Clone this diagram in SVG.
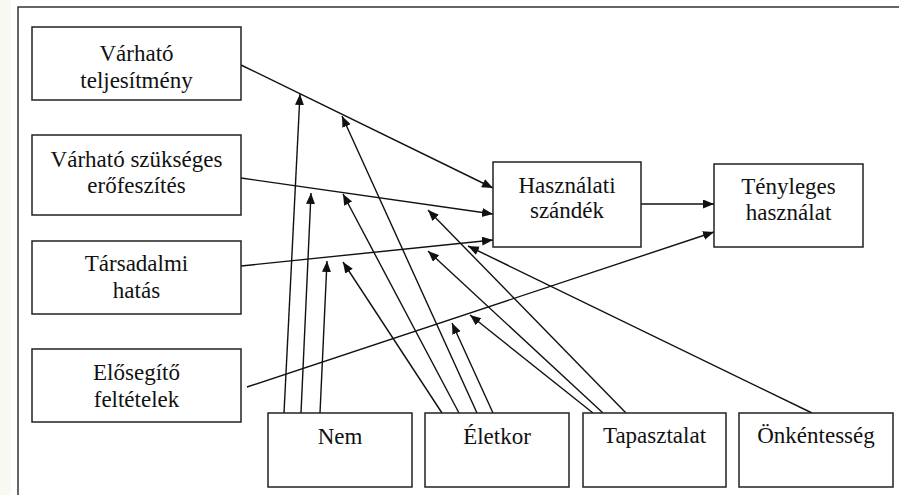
<svg xmlns="http://www.w3.org/2000/svg" width="899" height="495" viewBox="0 0 899 495">
<defs>
<style>
.box{fill:#fff;stroke:#222;stroke-width:1.5}
.t{font-family:'Liberation Serif',serif;font-size:23px;fill:#111;text-anchor:middle}
.c{stroke:#111;stroke-width:1.4;fill:none;marker-end:url(#ah)}
</style>
<marker id="ah" markerUnits="userSpaceOnUse" markerWidth="12" markerHeight="10" refX="11" refY="4.5" orient="auto">
<path d="M0,0 L11,4.5 L0,9 z" fill="#111"/>
</marker>
</defs>
<rect x="0" y="0" width="899" height="495" fill="#fff"/>
<rect x="0" y="0" width="11" height="495" fill="#f9f9f4"/>
<path d="M18,495 V7 H899" fill="none" stroke="#333" stroke-width="1.5"/>

<g id="connectors">
<line class="c" x1="241" y1="65" x2="493" y2="188"/>
<line class="c" x1="241" y1="178" x2="493" y2="214"/>
<line class="c" x1="241" y1="266" x2="493" y2="240"/>
<line class="c" x1="247" y1="387" x2="714" y2="232"/>
<line class="c" x1="641" y1="204" x2="714" y2="204"/>
<line class="c" x1="284" y1="413" x2="300" y2="94"/>
<line class="c" x1="301" y1="413" x2="311" y2="193"/>
<line class="c" x1="320" y1="413" x2="327" y2="261"/>
<line class="c" x1="442" y1="413" x2="343" y2="262"/>
<line class="c" x1="459" y1="413" x2="343" y2="194"/>
<line class="c" x1="477" y1="413" x2="342" y2="116"/>
<line class="c" x1="493" y1="413" x2="452" y2="323"/>
<line class="c" x1="626" y1="413" x2="428" y2="210"/>
<line class="c" x1="603" y1="413" x2="428" y2="251"/>
<line class="c" x1="593" y1="413" x2="470" y2="315"/>
<line class="c" x1="812" y1="413" x2="468" y2="246"/>
</g>

<g id="varhato-teljesitmeny">
<rect class="box" x="32" y="27" width="209" height="73"/>
<text class="t" x="136.5" y="61" font-family="Liberation Serif">Várható</text>
<text class="t" x="136.5" y="88" font-family="Liberation Serif">teljesítmény</text>
</g>
<g id="varhato-erofeszites">
<rect class="box" x="32" y="135" width="209" height="80"/>
<text class="t" x="136.5" y="167" font-family="Liberation Serif">Várható szükséges</text>
<text class="t" x="136.5" y="193" font-family="Liberation Serif">erőfeszítés</text>
</g>
<g id="tarsadalmi-hatas">
<rect class="box" x="32" y="241" width="209" height="73"/>
<text class="t" x="136.5" y="271" font-family="Liberation Serif">Társadalmi</text>
<text class="t" x="136.5" y="298" font-family="Liberation Serif">hatás</text>
</g>
<g id="elosegito-feltetelek">
<rect class="box" x="32" y="349" width="209" height="73"/>
<text class="t" x="136.5" y="380" font-family="Liberation Serif">Elősegítő</text>
<text class="t" x="136.5" y="407" font-family="Liberation Serif">feltételek</text>
</g>
<g id="hasznalati-szandek">
<rect class="box" x="493" y="162" width="148" height="85"/>
<text class="t" x="567" y="193" font-family="Liberation Serif">Használati</text>
<text class="t" x="567" y="218" font-family="Liberation Serif">szándék</text>
</g>
<g id="tenyleges-hasznalat">
<rect class="box" x="714" y="164" width="149" height="83"/>
<text class="t" x="788.5" y="194" font-family="Liberation Serif">Tényleges</text>
<text class="t" x="788.5" y="220" font-family="Liberation Serif">használat</text>
</g>
<g id="nem">
<rect class="box" x="268" y="413" width="144" height="74"/>
<text class="t" x="340" y="444" font-family="Liberation Serif">Nem</text>
</g>
<g id="eletkor">
<rect class="box" x="425" y="413" width="144" height="74"/>
<text class="t" x="497" y="444" font-family="Liberation Serif">Életkor</text>
</g>
<g id="tapasztalat">
<rect class="box" x="583" y="413" width="143" height="74"/>
<text class="t" x="654.5" y="443" font-family="Liberation Serif">Tapasztalat</text>
</g>
<g id="onkentesseg">
<rect class="box" x="739" y="413" width="154" height="74"/>
<text class="t" x="816" y="443" font-family="Liberation Serif">Önkéntesség</text>
</g>
</svg>
